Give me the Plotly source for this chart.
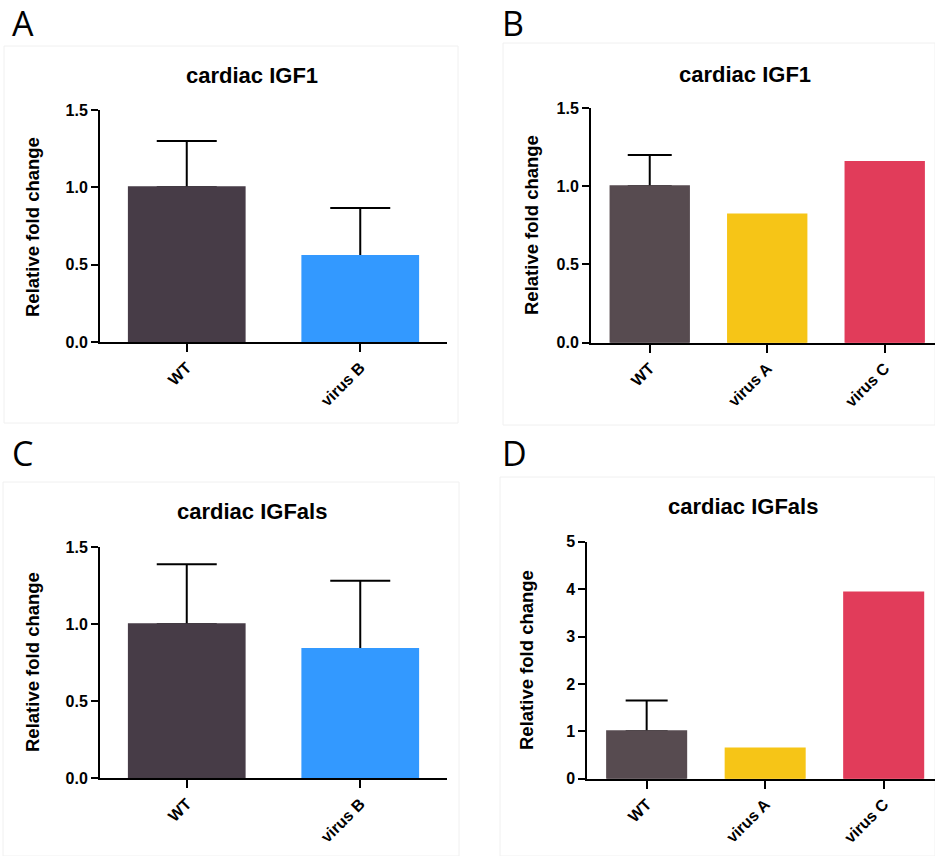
import plotly.graph_objects as go

W, H = 935, 856

# ---- data ----
cats_2 = ["WT", "virus B"]
cats_3 = ["WT", "virus A", "virus C"]

igf1_a = [1.00, 0.556]
igf1_a_err = [0.30, 0.31]

igf1_b = [1.00, 0.82, 1.155]
igf1_b_err = [0.20, None, None]

igfals_c = [1.00, 0.84]
igfals_c_err = [0.39, 0.443]

igfals_d = [1.00, 0.635, 3.93]
igfals_d_err = [0.65, None, None]

colors_2 = ["#473c47", "#3399ff"]
colors_3 = ["#574b50", "#f6c517", "#e13c5a"]

titles = ["cardiac IGF1", "cardiac IGF1", "cardiac IGFals", "cardiac IGFals"]
letters = ["A", "B", "C", "D"]
ylabel = "Relative fold change"


def px(x):
    return x / W


def py(y):
    return 1 - y / H


fig = go.Figure()

panels = [
    (cats_2, igf1_a, igf1_a_err, colors_2, (100, 447), (342, 110), [-0.5, 1.5], [0, 1.5], [0, 0.5, 1.0, 1.5], 30),
    (cats_3, igf1_b, igf1_b_err, colors_3, (591, 935), (342.7, 108), [-0.5, 2.428], [0, 1.5], [0, 0.5, 1.0, 1.5], 22),
    (cats_2, igfals_c, igfals_c_err, colors_2, (100, 447), (778.3, 547.3), [-0.5, 1.5], [0, 1.5], [0, 0.5, 1.0, 1.5], 30),
    (cats_3, igfals_d, igfals_d_err, colors_3, (587.4, 935), (778.7, 541.7), [-0.5, 2.433], [0, 5], [0, 1, 2, 3, 4, 5], 21),
]

font_bold = "Liberation Sans, Arial, sans-serif"
BW = 0.667

for i, (cats, vals, errs, cols, xd, yd, xr, yr, tv, capw) in enumerate(panels):
    n = i + 1
    xa = "x" if n == 1 else f"x{n}"
    ya = "y" if n == 1 else f"y{n}"
    for c, v, e, col in zip(cats, vals, errs, cols):
        if e is not None:
            # upper error whisker (drawn beneath the bar so only the part above shows)
            fig.add_trace(go.Bar(x=[c], y=[v], marker=dict(color="rgba(0,0,0,0)", line=dict(width=0)),
                                 width=BW, xaxis=xa, yaxis=ya, showlegend=False, hoverinfo="skip",
                                 error_y=dict(type="data", symmetric=False, array=[e], arrayminus=[0],
                                              color="black", thickness=2, width=capw)))
        fig.add_trace(go.Bar(x=[c], y=[v], marker=dict(color=col, line=dict(color=col, width=2)),
                             width=BW, xaxis=xa, yaxis=ya, showlegend=False))
    fmt = ".1f" if yr[1] < 2 else "d"
    fig.update_layout(**{
        ("xaxis" if n == 1 else f"xaxis{n}"): dict(
            domain=[px(xd[0]), px(xd[1])], range=xr, anchor=ya,
            type="category", categoryorder="array", categoryarray=cats,
            showline=True, linewidth=2, linecolor="black",
            ticks="outside", ticklen=8, tickwidth=2, tickcolor="black",
            tickangle=-45, tickfont=dict(family=font_bold, size=16, color="black", weight="bold"),
            showgrid=False, zeroline=False, fixedrange=True, automargin=False),
        ("yaxis" if n == 1 else f"yaxis{n}"): dict(
            domain=[py(yd[0]), py(yd[1])], range=yr, anchor=xa,
            tickvals=tv, tickformat=fmt,
            showline=True, linewidth=2, linecolor="black",
            ticks="outside", ticklen=7, tickwidth=2, tickcolor="black",
            tickfont=dict(family=font_bold, size=16, color="black", weight="bold"),
            showgrid=False, zeroline=False, fixedrange=True, automargin=False),
    })

annotations = []
for lt, (x, y) in zip(letters, [(10, 23), (500, 23), (10, 453), (500, 453)]):
    annotations.append(dict(text=lt, x=px(x), y=py(y), xref="paper", yref="paper",
                            xanchor="left", yanchor="middle", showarrow=False,
                            font=dict(family="Open Sans, Noto Sans, sans-serif", size=34, color="black")))
for t, (x, y) in zip(titles, [(252, 76), (745, 74), (252, 512), (743, 506)]):
    annotations.append(dict(text=t, x=px(x), y=py(y), xref="paper", yref="paper",
                            xanchor="center", yanchor="middle", showarrow=False,
                            font=dict(family=font_bold, size=22, color="black", weight="bold")))
for (x, y) in [(32, 227), (531, 225), (32, 662), (526, 660)]:
    annotations.append(dict(text=ylabel, x=px(x), y=py(y), xref="paper", yref="paper",
                            xanchor="center", yanchor="middle", showarrow=False, textangle=-90,
                            font=dict(family=font_bold, size=18.5, color="black", weight="bold")))

shapes = []
for (x0, y0, x1, y1) in [(4, 46, 458, 423), (503, 43, 935, 425), (3, 482, 459, 856), (500, 477, 935, 856)]:
    shapes.append(dict(type="rect", xref="paper", yref="paper",
                       x0=px(x0), x1=px(x1), y0=py(y1), y1=py(y0),
                       line=dict(color="#f0f0f0", width=1), fillcolor="rgba(0,0,0,0)", layer="below"))

fig.update_layout(width=W, height=H, margin=dict(l=0, r=0, t=0, b=0, pad=0, autoexpand=False),
                  plot_bgcolor="white", paper_bgcolor="white", barmode="overlay",
                  annotations=annotations, shapes=shapes)

fig.write_html("out.html", config={"displayModeBar": False},
               post_script="document.body.style.margin='0';")
